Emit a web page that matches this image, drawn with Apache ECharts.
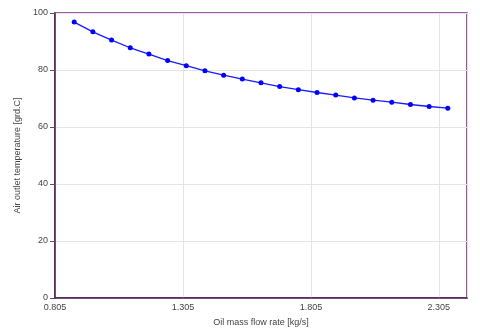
<!DOCTYPE html>
<html><head><meta charset="utf-8">
<script src="https://cdn.jsdelivr.net/npm/echarts@6/dist/echarts.min.js"></script>
<style>html,body{margin:0;padding:0;background:#fff}#c{width:480px;height:333px}</style>
</head><body><div id="c"></div>
<script>
const flowRates = [0.880, 0.953, 1.026, 1.099, 1.172, 1.245, 1.318, 1.391, 1.464, 1.537, 1.610, 1.683, 1.756, 1.829, 1.902, 1.975, 2.048, 2.121, 2.194, 2.267, 2.340];
const outletTemps = [96.8, 93.4, 90.5, 87.8, 85.6, 83.3, 81.5, 79.7, 78.2, 76.8, 75.5, 74.2, 73.1, 72.1, 71.2, 70.2, 69.4, 68.7, 67.9, 67.2, 66.6];
const xAxisTitle = 'Oil mass flow rate [kg/s]';
const yAxisTitle = 'Air outlet temperature [grd.C]';

const chart = echarts.init(document.getElementById('c'));
const lbl = {color:'#444', fontSize:9, fontFamily:'Liberation Sans, Arial, sans-serif'};
chart.setOption({
  animation:false,
  grid:{left:55, top:13, right:13, bottom:35, show:true, borderColor:'#862a86', borderWidth:1.6},
  xAxis:{type:'value', min:0.805, max:2.415, interval:0.5,
    name:xAxisTitle, nameLocation:'middle', nameGap:20, nameTextStyle:lbl,
    axisLine:{lineStyle:{color:'#4a1f4a', width:1.5}},
    axisTick:{show:false},
    splitLine:{lineStyle:{color:'#e4e4e4'}},
    axisLabel:Object.assign({showMaxLabel:false, margin:5, formatter:v=>v.toFixed(3)}, lbl)},
  yAxis:{type:'value', min:0, max:100, interval:20,
    name:yAxisTitle, nameLocation:'middle', nameGap:29, nameTextStyle:lbl,
    axisLine:{show:true, lineStyle:{color:'#4a1f4a', width:1.5}},
    axisTick:{show:true, length:5, lineStyle:{color:'#555'}},
    splitLine:{lineStyle:{color:'#e4e4e4'}},
    axisLabel:Object.assign({margin:7}, lbl)},
  series:[{type:'line', data:flowRates.map((x,i)=>[x,outletTemps[i]]),
    symbol:'circle', symbolSize:5, color:'#0000ff',
    lineStyle:{width:1.3, color:'#1a1aff'}, itemStyle:{color:'#0000ff'}}]
});
</script></body></html>
